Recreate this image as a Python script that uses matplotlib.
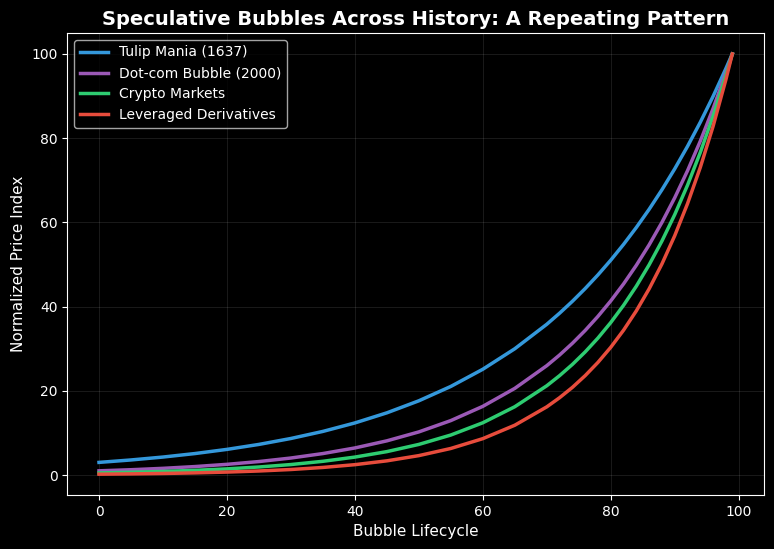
import matplotlib
matplotlib.use("Agg")
import matplotlib.pyplot as plt

# bubble lifecycle positions (denser where the curves get steep)
lifecycle = [0, 5, 10, 15, 20, 25, 30, 35, 40, 45, 50, 55, 60, 65,
             70, 72, 74, 76, 78, 80, 82, 84, 86, 88, 90, 92, 94, 96, 98, 99]

tulip = [3.0, 3.58, 4.27, 5.10, 6.09, 7.27, 8.68, 10.36, 12.37, 14.77, 17.63, 21.04, 25.12, 29.99,
         35.80, 38.43, 41.25, 44.28, 47.53, 51.02, 54.77, 58.79, 63.10, 67.74, 72.71, 78.05,
         83.78, 89.93, 96.53, 100.0]
dotcom = [1.0, 1.26, 1.59, 2.01, 2.54, 3.20, 4.04, 5.10, 6.43, 8.12, 10.24, 12.93, 16.31, 20.58,
          25.97, 28.50, 31.28, 34.33, 37.68, 41.35, 45.38, 49.81, 54.66, 59.99, 65.84, 72.26,
          79.30, 87.03, 95.52, 100.0]
crypto = [0.50, 0.65, 0.85, 1.12, 1.46, 1.91, 2.49, 3.26, 4.26, 5.56, 7.27, 9.50, 12.41, 16.22,
          21.20, 23.60, 26.26, 29.23, 32.53, 36.21, 40.30, 44.85, 49.92, 55.56, 61.84, 68.82,
          76.60, 85.25, 94.89, 100.0]
leveraged = [0.20, 0.27, 0.37, 0.51, 0.70, 0.96, 1.31, 1.80, 2.46, 3.37, 4.61, 6.31, 8.64, 11.83,
             16.19, 18.36, 20.81, 23.60, 26.75, 30.33, 34.39, 38.99, 44.21, 50.12, 56.83, 64.43,
             73.05, 82.82, 93.90, 100.0]

labels = ["Tulip Mania (1637)", "Dot-com Bubble (2000)",
          "Crypto Markets", "Leveraged Derivatives"]
colors = ["#3498db", "#9b59b6", "#2ecc71", "#e74c3c"]

plt.style.use("dark_background")
fig, ax = plt.subplots(figsize=(7.74, 5.49), dpi=100)

for series, label, color in zip([tulip, dotcom, crypto, leveraged], labels, colors):
    ax.plot(lifecycle, series, color=color, linewidth=2.5, label=label)

ax.set_xlabel("Bubble Lifecycle", fontsize=11)
ax.set_ylabel("Normalized Price Index", fontsize=11)
ax.set_title("Speculative Bubbles Across History: A Repeating Pattern",
             fontsize=14, fontweight="bold")
ax.grid(True, alpha=0.1)
ax.legend(loc="upper left")

fig.subplots_adjust(left=0.087, right=0.987, top=0.94, bottom=0.098)
plt.savefig("out.png")
